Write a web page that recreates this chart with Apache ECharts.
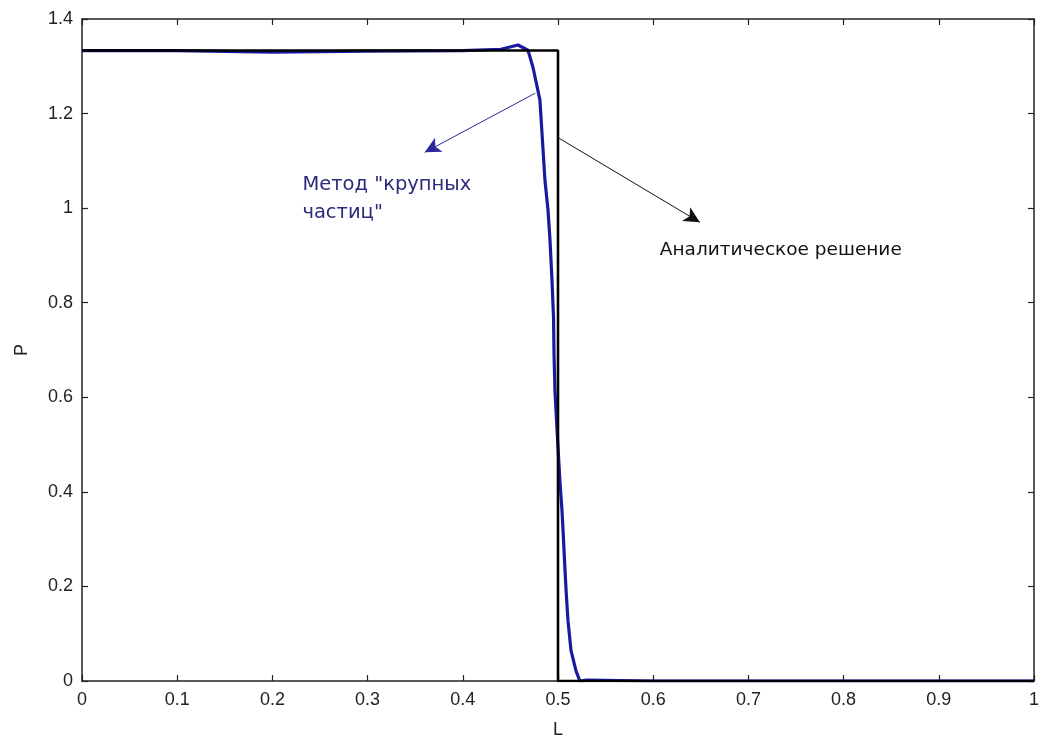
<!DOCTYPE html>
<html>
<head>
<meta charset="utf-8">
<script src="https://cdn.jsdelivr.net/npm/echarts@6/dist/echarts.min.js"></script>
<style>
  html, body { margin: 0; padding: 0; background: #fff; }
  #chart { width: 1039px; height: 740px; }
</style>
</head>
<body>
<div id="chart"></div>
<script>
// Analytical solution: step profile
const exactL = [0, 0.5, 0.5, 1];
const exactP = [1.3333, 1.3333, 0, 0];

// Numerical solution ("large particle" method)
const numL = [0, 0.1, 0.2, 0.3, 0.4, 0.44, 0.458, 0.4685, 0.4737, 0.481, 0.4863, 0.4895, 0.4916, 0.4937,
              0.4953, 0.4958, 0.4968, 0.499, 0.502, 0.5042, 0.5053, 0.5074, 0.5085, 0.5105, 0.5137,
              0.519, 0.523, 0.53, 0.6, 0.8, 1];
const numP = [1.333, 1.333, 1.330, 1.332, 1.333, 1.336, 1.345, 1.334, 1.298, 1.229, 1.059, 0.996, 0.932, 0.847,
              0.769, 0.693, 0.614, 0.530, 0.424, 0.360, 0.318, 0.233, 0.191, 0.127, 0.064,
              0.021, 0, 0.002, 0, 0, 0];

const xTicks = [0, 0.1, 0.2, 0.3, 0.4, 0.5, 0.6, 0.7, 0.8, 0.9, 1];
const yTicks = [0, 0.2, 0.4, 0.6, 0.8, 1, 1.2, 1.4];

const labelMethod = 'Метод "крупных\nчастиц"';
const labelExact = 'Аналитическое решение';

const pair = (xs, ys) => xs.map((x, i) => [x, ys[i]]);
const tickFont = 'Liberation Sans, Arial, sans-serif';
const noteFont = 'DejaVu Sans, Verdana, sans-serif';

const chart = echarts.init(document.getElementById('chart'), null, { renderer: 'canvas' });

const axisBase = {
  type: 'value',
  axisLine: { show: true, onZero: false, lineStyle: { color: '#222', width: 1.5 } },
  axisTick: { show: true, inside: true, length: 6, lineStyle: { color: '#222', width: 1.2 } },
  splitLine: { show: false }
};

chart.setOption({
  animation: false,
  backgroundColor: '#fff',
  grid: { left: 82, right: 5, top: 19, bottom: 59, containLabel: false, outerBoundsMode: 'none' },
  xAxis: [
    Object.assign({}, axisBase, {
      position: 'bottom', min: 0, max: 1, interval: 0.1,
      name: 'L', nameLocation: 'middle', nameGap: 40,
      nameTextStyle: { fontFamily: tickFont, fontSize: 18, color: '#222' },
      axisLabel: { fontFamily: tickFont, fontSize: 18, color: '#222', margin: 10,
        formatter: v => xTicks.includes(+v.toFixed(1)) ? String(+v.toFixed(1)) : '' }
    }),
    Object.assign({}, axisBase, {
      position: 'top', min: 0, max: 1, interval: 0.1, axisLabel: { show: false }
    })
  ],
  yAxis: [
    Object.assign({}, axisBase, {
      position: 'left', min: 0, max: 1.4, interval: 0.2,
      name: 'P', nameLocation: 'middle', nameGap: 51,
      nameTextStyle: { fontFamily: tickFont, fontSize: 18, color: '#222' },
      axisLabel: { fontFamily: tickFont, fontSize: 18, color: '#222', margin: 9,
        formatter: v => yTicks.includes(+v.toFixed(1)) ? String(+v.toFixed(1)) : '' }
    }),
    Object.assign({}, axisBase, {
      position: 'right', min: 0, max: 1.4, interval: 0.2, axisLabel: { show: false }
    })
  ],
  series: [
    {
      type: 'line',
      name: 'numeric',
      data: pair(numL, numP),
      showSymbol: false,
      lineStyle: { color: '#1a1aa0', width: 3.2 },
      z: 2,
      markLine: {
        silent: true,
        symbol: ['none', 'arrow'],
        symbolSize: [12, 16],
        lineStyle: { color: '#2a2a9a', width: 1, type: 'solid' },
        itemStyle: { color: '#1818c8' },
        label: { show: false },
        data: [[{ coord: [0.476, 1.243] }, { coord: [0.360, 1.118] }]]
      },
      markPoint: {
        silent: true,
        symbol: 'circle', symbolSize: 0,
        data: [{
          coord: [0.2315, 1.019],
          label: {
            show: true, position: 'right', distance: 0,
            formatter: labelMethod, fontFamily: noteFont, fontSize: 19.5,
            lineHeight: 28, color: '#2a2a7c', align: 'left'
          }
        }]
      }
    },
    {
      type: 'line',
      name: 'exact',
      data: pair(exactL, exactP),
      showSymbol: false,
      lineStyle: { color: '#000', width: 2.6 },
      z: 3,
      markLine: {
        silent: true,
        symbol: ['none', 'arrow'],
        symbolSize: [12, 16],
        lineStyle: { color: '#111', width: 1, type: 'solid' },
        itemStyle: { color: '#000' },
        label: { show: false },
        data: [[{ coord: [0.501, 1.148] }, { coord: [0.649, 0.970] }]]
      },
      markPoint: {
        silent: true,
        symbol: 'circle', symbolSize: 0,
        data: [{
          coord: [0.607, 0.911],
          label: {
            show: true, position: 'right', distance: 0,
            formatter: labelExact, fontFamily: noteFont, fontSize: 18.5,
            color: '#111', align: 'left'
          }
        }]
      }
    }
  ]
});
</script>
</body>
</html>
